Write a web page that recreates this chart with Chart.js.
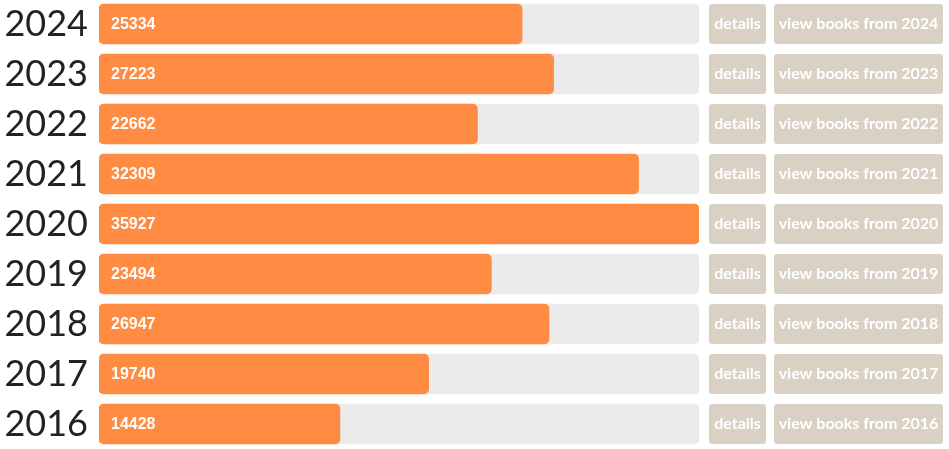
<!DOCTYPE html>
<html><head><meta charset="utf-8">
<script src="https://cdn.jsdelivr.net/npm/chart.js@4"></script>
<style>
html,body{margin:0;padding:0;background:#fff;overflow:hidden}
#wrap{position:absolute;left:0;top:-1px;width:949px;height:450px}
</style></head><body>
<div id="wrap"><canvas id="c"></canvas></div>
<script>
const years = ['2024','2023','2022','2021','2020','2019','2018','2017','2016'];
const bookCounts = [25334, 27223, 22662, 32309, 35927, 23494, 26947, 19740, 14428];
const detailsLabel = 'details';
const viewPrefix = 'view books from ';

const maxCount = Math.max(...bookCounts);
const trackValues = years.map(() => maxCount);

const overlay = {
  id: 'overlay',
  afterDatasetsDraw(chart) {
    const ctx = chart.ctx;
    const meta = chart.getDatasetMeta(1);
    ctx.save();
    meta.data.forEach((bar, i) => {
      const h = bar.height;
      const top = bar.y - h / 2;
      ctx.fillStyle = '#ffffff';
      ctx.font = 'bold 16px "Liberation Sans", Arial, sans-serif';
      ctx.textBaseline = 'middle';
      ctx.textAlign = 'left';
      ctx.fillText(String(bookCounts[i]), chart.chartArea.left + 12, bar.y + 1);
      const buttons = [
        {x: 709, w: 57, text: detailsLabel},
        {x: 774, w: 169, text: viewPrefix + years[i]}
      ];
      buttons.forEach(b => {
        ctx.fillStyle = '#d9d1c3';
        ctx.beginPath();
        ctx.roundRect(b.x, top, b.w, h, 3);
        ctx.fill();
        ctx.fillStyle = '#ffffff';
        ctx.font = 'bold 16px Lato, sans-serif';
        ctx.textAlign = 'center';
        ctx.fillText(b.text, b.x + b.w / 2, bar.y);
      });
    });
    ctx.restore();
  }
};

new Chart(document.getElementById('c'), {
  type: 'bar',
  data: {
    labels: years,
    datasets: [
      {data: trackValues, backgroundColor: '#ebebeb', borderRadius: 5, borderSkipped: false, grouped: false, barThickness: 40, order: 2},
      {data: bookCounts, backgroundColor: '#ff8c42', borderRadius: 5, borderSkipped: false, grouped: false, barThickness: 40, order: 1}
    ]
  },
  plugins: [overlay],
  options: {
    indexAxis: 'y',
    responsive: true,
    maintainAspectRatio: false,
    animation: false,
    layout: {padding: {left: 0, right: 250, top: 0, bottom: 0}},
    plugins: {legend: {display: false}, tooltip: {enabled: false}},
    scales: {
      x: {display: false, min: 0, max: maxCount},
      y: {
        grid: {display: false},
        border: {display: false},
        ticks: {font: {family: 'Lato', size: 36}, color: '#222222', padding: 3},
        afterFit(scale) { scale.width = 99; scale.paddingTop = 0; scale.paddingBottom = 0; }
      }
    }
  }
});
</script>
</body></html>
